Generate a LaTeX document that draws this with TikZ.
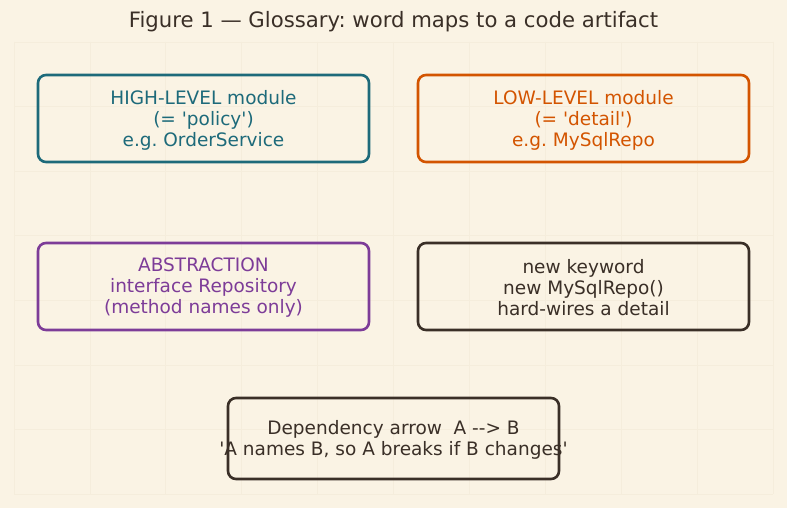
\documentclass[tikz,border=0pt]{standalone}
\usepackage{fontspec}
\setmainfont{DejaVu Sans}
\definecolor{bg}{HTML}{FAF3E4}
\definecolor{gridc}{HTML}{F5EDDC}
\definecolor{teal}{HTML}{1D6A7A}
\definecolor{orng}{HTML}{D35400}
\definecolor{purp}{HTML}{7D3C98}
\definecolor{dark}{HTML}{3A2F27}
\newcommand{\q}{\textquotesingle}
\tikzset{
  box/.style={draw, line width=2.6pt, rounded corners=8pt, minimum width=331pt, minimum height=87pt, inner sep=0pt},
  txt/.style={align=center, font=\fontsize{18.5}{21}\selectfont, inner sep=0pt},
}
\begin{document}
\frenchspacing
\begin{tikzpicture}[x=1pt,y=-1pt]
\fill[bg] (0,0) rectangle (787,508);
\useasboundingbox (0,0) rectangle (787,508);
\foreach \x in {0,...,10} \draw[gridc, line width=0.8pt] (14+\x*75.9,42) -- (14+\x*75.9,494);
\foreach \y in {0,...,7} \draw[gridc, line width=0.8pt] (14,42+\y*64.6) -- (773,42+\y*64.6);
\node[font=\fontsize{21.2}{25}\selectfont, text=dark] (title) at (393.5,22) {Figure 1 — Glossary: word maps to a code artifact};
\node[box, draw=teal, text=teal] (high) at (203.5,118.5) {};
\node[txt, text=teal] (hight) at ([yshift=-1.5pt]high.center) {HIGH-LEVEL module\\(= \q policy\q)\\e.g. OrderService};
\node[box, draw=orng] (low) at (583.5,118.5) {};
\node[txt, text=orng] (lowt) at ([yshift=-1.5pt]low.center) {LOW-LEVEL module\\(= \q detail\q)\\e.g. MySqlRepo};
\node[box, draw=purp] (abs) at (203.5,286.5) {};
\node[txt, text=purp] (abst) at ([yshift=-1.5pt]abs.center) {ABSTRACTION\\interface Repository\\(method names only)};
\node[box, draw=dark] (new) at (583.5,286.5) {};
\node[txt, text=dark] (newt) at ([yshift=-1.5pt]new.center) {new keyword\\new MySqlRepo()\\hard-wires a detail};
\node[box, draw=dark, minimum height=81pt] (dep) at (393.5,438.5) {};
\node[txt, text=dark] (dept) at ([yshift=-1.5pt]dep.center) {Dependency arrow\ \ A -{}-> B\\\q A names B, so A breaks if B changes\q};
\end{tikzpicture}
\end{document}
